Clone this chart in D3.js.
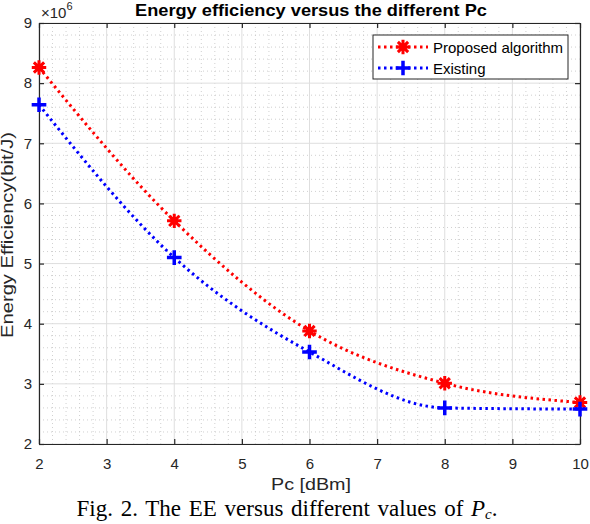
<!DOCTYPE html>
<html>
<head>
<meta charset="utf-8">
<script src="https://cdn.jsdelivr.net/npm/d3@7"></script>
<style>
  body { margin: 0; background: #fff; }
  svg { display: block; }
</style>
</head>
<body>
<div class="d3-canvas"></div>
<script>
const WIDTH = 590;
const HEIGHT = 524;

// Chart data.
const pcValues = [2, 4, 6, 8, 10];
const proposed = [8.26, 5.71, 3.88, 3.01, 2.69];
const existing = [7.64, 5.10, 3.53, 2.60, 2.58];
const xTicks = [2, 3, 4, 5, 6, 7, 8, 9, 10];
const yTicks = [2, 3, 4, 5, 6, 7, 8, 9];
const seriesNames = ['Proposed algorithm', 'Existing'];

const margin = {top: 23, right: 10, bottom: 80, left: 39};
const chartWidth = WIDTH - margin.left - margin.right;
const chartHeight = HEIGHT - margin.top - margin.bottom;

const svg = d3.select('.d3-canvas')
    .append('svg')
        .attr('width', WIDTH)
        .attr('height', HEIGHT);

const chart = svg.append('g')
    .attr('transform', `translate(${margin.left}, ${margin.top})`);

const x = d3.scaleLinear().domain([2, 10]).range([0, chartWidth]);
const y = d3.scaleLinear().domain([2, 9]).range([chartHeight, 0]);

// Minor grid (dotted) every 0.2.
const minorX = d3.range(2, 10.001, 0.2).filter(v => Math.abs(v - Math.round(v)) > 0.01);
const minorY = d3.range(2, 9.001, 0.2).filter(v => Math.abs(v - Math.round(v)) > 0.01);
chart.append('g').selectAll('line')
    .data(minorX).enter().append('line')
    .attr('x1', d => x(d)).attr('x2', d => x(d))
    .attr('y1', 0).attr('y2', chartHeight)
    .attr('stroke', '#c4c4c4').attr('stroke-width', 0.8)
    .attr('stroke-dasharray', '1,3');
chart.append('g').selectAll('line')
    .data(minorY).enter().append('line')
    .attr('y1', d => y(d)).attr('y2', d => y(d))
    .attr('x1', 0).attr('x2', chartWidth)
    .attr('stroke', '#c4c4c4').attr('stroke-width', 0.8)
    .attr('stroke-dasharray', '1,3');

// Major grid.
chart.append('g').selectAll('line')
    .data(xTicks).enter().append('line')
    .attr('x1', d => x(d)).attr('x2', d => x(d))
    .attr('y1', 0).attr('y2', chartHeight)
    .attr('stroke', '#dedede').attr('stroke-width', 1);
chart.append('g').selectAll('line')
    .data(yTicks).enter().append('line')
    .attr('y1', d => y(d)).attr('y2', d => y(d))
    .attr('x1', 0).attr('x2', chartWidth)
    .attr('stroke', '#dedede').attr('stroke-width', 1);

// Axes, box style with inward ticks.
const tickFont = '15px "Liberation Sans", Arial, sans-serif';
chart.append('g')
    .attr('transform', `translate(0, ${chartHeight})`)
    .call(d3.axisBottom(x).tickValues(xTicks).tickFormat(d3.format('d'))
        .tickSize(-5).tickPadding(14).tickSizeOuter(0));
chart.append('g')
    .call(d3.axisLeft(y).tickValues(yTicks).tickFormat(d3.format('d'))
        .tickSize(-5).tickPadding(7).tickSizeOuter(0));
chart.append('g')
    .call(d3.axisTop(x).tickValues(xTicks).tickSize(-5).tickFormat('').tickSizeOuter(0));
chart.append('g')
    .attr('transform', `translate(${chartWidth}, 0)`)
    .call(d3.axisRight(y).tickValues(yTicks).tickSize(-5).tickFormat('').tickSizeOuter(0));
chart.selectAll('.domain, .tick line').attr('stroke', '#262626').attr('stroke-width', 1.2);
chart.selectAll('.tick text')
    .style('font', tickFont).attr('fill', '#262626');

// Series lines.
const line = d3.line()
    .x((d, i) => x(pcValues[i]))
    .y(d => y(d))
    .curve(d3.curveMonotoneX);

const series = [
    {name: seriesNames[0], values: proposed, color: '#ff0000', marker: 'star'},
    {name: seriesNames[1], values: existing, color: '#0000ff', marker: 'plus'}
];

function drawMarker(g, type, color) {
    if (type === 'star') {
        g.append('path').attr('d', d3.symbol(d3.symbolPlus, 70)())
            .attr('fill', 'none').attr('stroke', color).attr('stroke-width', 3);
        g.append('path').attr('d', d3.symbol(d3.symbolTimes, 70)())
            .attr('fill', 'none').attr('stroke', color).attr('stroke-width', 3);
        g.append('circle').attr('r', 4).attr('fill', color);
    } else {
        g.append('path').attr('d', d3.symbol(d3.symbolPlus, 72)())
            .attr('fill', 'none').attr('stroke', color).attr('stroke-width', 3.5);
    }
}

series.forEach(s => {
    chart.append('path')
        .datum(s.values)
        .attr('d', line)
        .attr('fill', 'none')
        .attr('stroke', s.color)
        .attr('stroke-width', 3)
        .attr('stroke-dasharray', '2.5,3.5');
    s.values.forEach((v, i) => {
        const g = chart.append('g')
            .attr('transform', `translate(${x(pcValues[i])}, ${y(v)})`);
        drawMarker(g, s.marker, s.color);
    });
});

// Legend.
const legend = chart.append('g')
    .attr('transform', `translate(${373 - margin.left}, ${35 - margin.top})`);
legend.append('rect')
    .attr('width', 195).attr('height', 44)
    .attr('fill', '#fff').attr('stroke', '#262626').attr('stroke-width', 1);
series.forEach((s, i) => {
    const row = legend.append('g').attr('transform', `translate(0, ${12 + i * 21})`);
    row.append('line')
        .attr('x1', 5).attr('x2', 55).attr('y1', 0).attr('y2', 0)
        .attr('stroke', s.color).attr('stroke-width', 3)
        .attr('stroke-dasharray', '2.5,3.5');
    drawMarker(row.append('g').attr('transform', 'translate(30, 0)'), s.marker, s.color);
    row.append('text')
        .attr('x', 60).attr('y', 5.5)
        .style('font', tickFont)
        .attr('fill', '#000')
        .text(s.name);
});

// Title and labels.
svg.append('text')
    .attr('x', 311).attr('y', 16)
    .attr('text-anchor', 'middle')
    .attr('textLength', 352).attr('lengthAdjust', 'spacingAndGlyphs')
    .style('font', 'bold 17px "Liberation Sans", Arial, sans-serif')
    .text('Energy efficiency versus the different Pc');

const expo = svg.append('text')
    .attr('x', 41).attr('y', 18)
    .style('font', tickFont).attr('fill', '#262626');
expo.append('tspan').text('\u00d710');
expo.append('tspan').attr('dy', -8).style('font-size', '11px').text('6');

svg.append('text')
    .attr('transform', 'translate(13, 235) rotate(-90)')
    .attr('text-anchor', 'middle')
    .attr('textLength', 206).attr('lengthAdjust', 'spacingAndGlyphs')
    .style('font', '16px "Liberation Sans", Arial, sans-serif').attr('fill', '#262626')
    .text('Energy Efficiency(bit/J)');

svg.append('text')
    .attr('x', 311).attr('y', 490)
    .attr('text-anchor', 'middle')
    .attr('textLength', 80).attr('lengthAdjust', 'spacingAndGlyphs')
    .style('font', '16px "Liberation Sans", Arial, sans-serif').attr('fill', '#262626')
    .text('Pc [dBm]');

// Figure caption.
const caption = svg.append('text')
    .attr('x', 287).attr('y', 516)
    .attr('text-anchor', 'middle')
    .style('font', '23px "Liberation Serif", "Times New Roman", serif')
    .style('word-spacing', '2px')
    .attr('fill', '#000');
caption.append('tspan').text('Fig. 2. The EE versus different values of ');
caption.append('tspan').style('font-style', 'italic').text('P');
caption.append('tspan').attr('dy', 3).style('font-size', '15px').style('font-style', 'italic').text('c');
caption.append('tspan').attr('dy', -3).text('.');
</script>
</body>
</html>
